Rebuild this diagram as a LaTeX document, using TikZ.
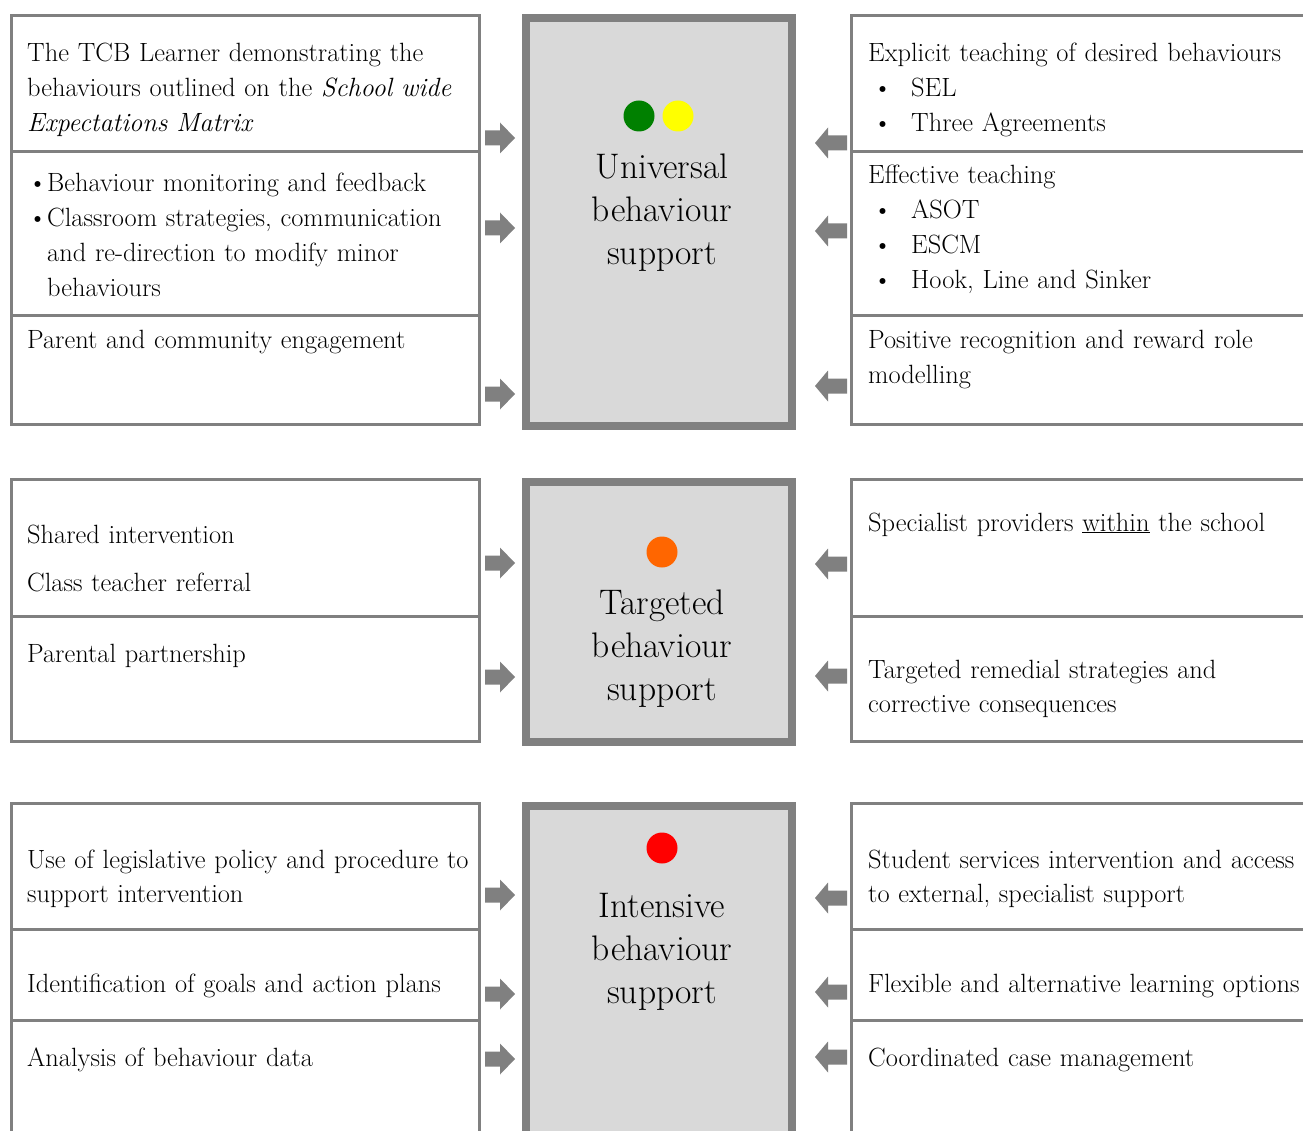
\documentclass[tikz,border=0pt]{standalone}

\definecolor{framegray}{HTML}{808080}
\definecolor{panelfill}{HTML}{D9D9D9}
\definecolor{dotgreen}{HTML}{008000}
\definecolor{dotyellow}{HTML}{FFFF00}
\definecolor{dotorange}{HTML}{FF6600}
\definecolor{dotred}{HTML}{FF0000}

\tikzset{
  box/.style={draw=framegray, line width=3pt},
  core/.style={draw=framegray, line width=8pt, fill=panelfill},
  txt/.style={anchor=base west, inner sep=0pt, align=left, text width=460pt,
    font=\fontsize{26.4}{34.8}\selectfont},
  title/.style={anchor=base, inner sep=0pt, align=center, text width=250pt,
    font=\fontsize{35.5}{43}\selectfont},
  lamp/.style={circle, inner sep=0pt, minimum size=31pt},
  toright/.pic={\fill[framegray] (-15,-7.5) -- (0,-7.5) -- (0,-15.5) -- (15,0)
    -- (0,15.5) -- (0,7.5) -- (-15,7.5) -- cycle;},
  toleft/.pic={\fill[framegray] (19,-7.5) -- (0,-7.5) -- (0,-15.5) -- (-13,0)
    -- (0,15.5) -- (0,7.5) -- (19,7.5) -- cycle;}
}

\newcommand{\lbul}{\makebox[19pt][l]{\textbullet}}
\newcommand{\lind}{\hspace*{19pt}}
\newcommand{\rbul}{\hspace*{5pt}\makebox[38pt][l]{\textbullet}}

\begin{document}
\begin{tikzpicture}[x=1pt, y=-1pt]
\clip (0,0) rectangle (1303,1131);
\fill[white] (0,0) rectangle (1303,1131);

% ---------- universal tier ----------
\draw[box] (11.5,15.5) rectangle (479.5,424.5);
\draw[box] (11.5,151.5) -- (479.5,151.5);
\draw[box] (11.5,315.5) -- (479.5,315.5);
\draw[box] (1310,15.5) -- (851.5,15.5) -- (851.5,424.5) -- (1310,424.5);
\draw[box] (851.5,151.5) -- (1310,151.5);
\draw[box] (851.5,315.5) -- (1310,315.5);
\draw[core] (526,18) rectangle (792,426);

\node[lamp, fill=dotgreen] (ugreen) at (639,116) {};
\node[lamp, fill=dotyellow] (uyellow) at (678,116) {};
\node[title] (utitle) at (662,179) {Universal\\behaviour\\support};

\node[txt] (u1) at (27,61.5) {The TCB Learner demonstrating the\\behaviours outlined on the \textit{School wide}\\\textit{Expectations Matrix}};
\node[txt] (u2) at (28,192) {\lbul Behaviour monitoring and feedback\\\lbul Classroom strategies, communication\\\lind and re-direction to modify minor\\\lind behaviours};
\node[txt] (u3) at (27,348.5) {Parent and community engagement};

\node[txt] (u4) at (868,61.5) {Explicit teaching of desired behaviours\\\rbul SEL\\\rbul Three Agreements};
\node[txt] (u5) at (868,184) {Effective teaching\\\rbul ASOT\\\rbul ESCM\\\rbul Hook, Line and Sinker};
\node[txt] (u6) at (868,348.5) {Positive recognition and reward role\\modelling};

\pic at (500,138) {toright};
\pic at (500,228) {toright};
\pic at (500,394) {toright};
\pic at (828,143) {toleft};
\pic at (828,231) {toleft};
\pic at (828,386) {toleft};

% ---------- targeted tier ----------
\draw[box] (11.5,479.5) rectangle (479.5,741.5);
\draw[box] (11.5,616) -- (479.5,616);
\draw[box] (1310,479.5) -- (851.5,479.5) -- (851.5,741.5) -- (1310,741.5);
\draw[box] (851.5,616) -- (1310,616);
\draw[core] (526,482) rectangle (792,742);

\node[lamp, fill=dotorange] (torange) at (662,552) {};
\node[title] (ttitle) at (662,614) {Targeted\\behaviour\\support};

\node[txt] (t1) at (27,543) {Shared intervention\\[14pt]Class teacher referral};
\node[txt] (t2) at (27,662) {Parental partnership};
\node[txt] (t3) at (868,531) {Specialist providers \underline{within} the school};
\node[txt] (t4) at (868,678) {Targeted remedial strategies and\\corrective consequences};

\pic at (500,563) {toright};
\pic at (500,677) {toright};
\pic at (828,564) {toleft};
\pic at (828,676) {toleft};

% ---------- intensive tier ----------
\draw[box] (11.5,1140) -- (11.5,803.5) -- (479.5,803.5) -- (479.5,1140);
\draw[box] (11.5,929) -- (479.5,929);
\draw[box] (11.5,1020.5) -- (479.5,1020.5);
\draw[box] (1310,803.5) -- (851.5,803.5) -- (851.5,1140);
\draw[box] (851.5,929) -- (1310,929);
\draw[box] (851.5,1020.5) -- (1310,1020.5);
\draw[core] (526,1145) -- (526,806) -- (792,806) -- (792,1145);
\fill[panelfill] (530,810) rectangle (788,1140);

\node[lamp, fill=dotred] (ired) at (662,848) {};
\node[title] (ititle) at (662,917) {Intensive\\behaviour\\support};

\node[txt] (i1) at (27,868) {Use of legislative policy and procedure to\\support intervention};
\node[txt] (i2) at (27,992) {Identification of goals and action plans};
\node[txt] (i3) at (27,1066) {Analysis of behaviour data};
\node[txt] (i4) at (868,868) {Student services intervention and access\\to external, specialist support};
\node[txt] (i5) at (868,992) {Flexible and alternative learning options};
\node[txt] (i6) at (868,1066) {Coordinated case management};

\pic at (500,895) {toright};
\pic at (500,994) {toright};
\pic at (500,1059) {toright};
\pic at (828,898) {toleft};
\pic at (828,992) {toleft};
\pic at (828,1057) {toleft};
\end{tikzpicture}
\end{document}
